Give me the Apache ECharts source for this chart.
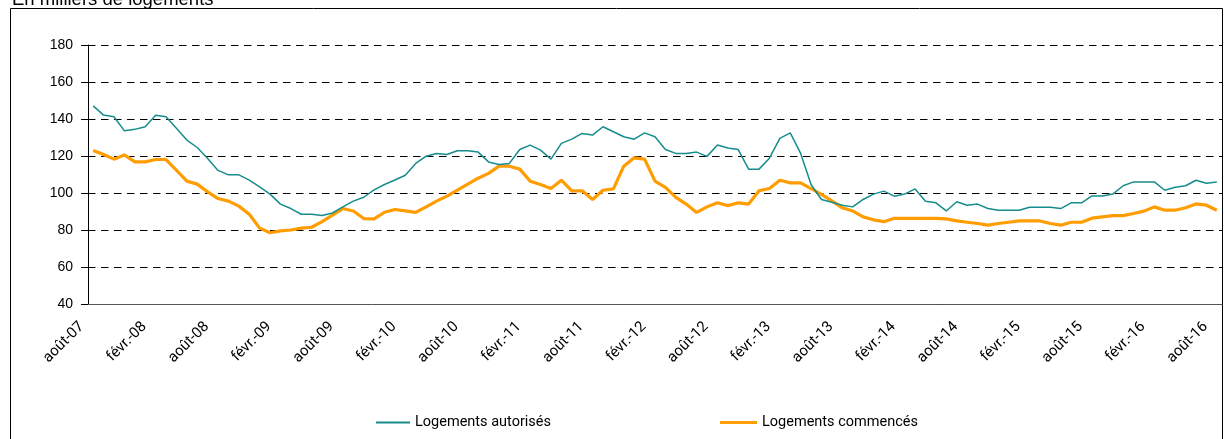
<!DOCTYPE html>
<html>
<head>
<meta charset="utf-8">
<script src="https://cdn.jsdelivr.net/npm/echarts@6/dist/echarts.min.js"></script>
<style>
html,body{margin:0;padding:0;background:#fff;}
#c{width:1224px;height:439px;}
</style>
</head>
<body>
<div id="c"></div>
<script>
const monthNames = ['janv.','févr.','mars','avr.','mai','juin','juil.','août','sept.','oct.','nov.','déc.'];
const startYear = 2007, startMonth = 7, monthCount = 109;
const categories = [];
for (let i = 0; i < monthCount; i++) {
  const m = (startMonth + i) % 12;
  const y = startYear + Math.floor((startMonth + i) / 12);
  categories.push(monthNames[m] + '-' + String(y).slice(2));
}
const titleText = 'En milliers de logements';
const seriesNames = ['Logements autorisés', 'Logements commencés'];
const autorises = [147.1,142.1,141.2,133.6,134.4,135.8,142,141.2,135,128.6,
124.6,118.7,112.2,109.8,109.8,107,103.3,99.4,94,91.6,
88.5,88.5,87.8,89.2,92.5,95.6,97.7,101.7,104.6,107,
109.6,116,119.9,121.4,120.8,122.8,122.8,122.1,116.8,115.4,
116,123.5,125.9,123.2,118.3,126.8,129.1,132.2,131.3,135.8,
133.1,130.4,129.1,132.5,130.4,123.5,121.4,121.4,122.1,119.8,
125.9,124.3,123.5,112.9,112.9,118.8,129.5,132.5,121.4,104.6,
96.5,95,93.4,92.5,96.5,99.4,101,98.3,99.4,102.2,
95.6,94.7,90.3,95.3,93.4,94,91.6,90.7,90.7,90.7,
92.3,92.3,92.3,91.6,94.7,94.7,98.4,98.4,99.4,103.9,
106,106,106,101.5,103.1,103.9,106.9,105.3,106];
const commences = [123,120.8,118.3,120.6,116.8,116.8,118.1,118.1,112.3,106.4,
104.8,100.6,97,95.6,92.9,88.5,81,78.5,79.5,80,
81,81.5,84.5,88,91.6,90.3,86.2,86,89.6,91.1,
90.3,89.5,92.5,95.6,98.3,101.5,104.8,108,110.6,114.5,
114.5,112.9,106.4,104.6,102.4,106.9,101.2,101.2,96.5,101.5,
102.2,114.5,119,118.3,106.4,103,97.6,94,89.5,92.5,
94.7,93.2,94.7,94,101.2,102.4,106.9,105.5,105.5,102.4,
99.2,95.7,92,90.3,87.1,85.5,84.5,86.3,86.3,86.3,
86.3,86.3,86,84.9,84.2,83.5,82.6,83.5,84.2,84.9,
84.9,84.9,83.5,82.6,84.2,84.2,86.4,87.1,87.8,87.8,
88.9,90.2,92.5,90.7,90.7,92,94.1,93.4,90.7];
const yMin = 40, yMax = 180, yStep = 20;

const teal = '#178c8c', orange = '#ff9d00';
const narrow = 'Roboto, "DejaVu Sans", sans-serif';
const chart = echarts.init(document.getElementById('c'), null, {renderer:'canvas'});
chart.setOption({
  animation: false,
  backgroundColor: '#fff',
  graphic: [
    {type:'rect', shape:{x:10.5, y:8.5, width:1212, height:440}, style:{fill:'none', stroke:'#000', lineWidth:1}, z:-1},
    {type:'text', left:12, top:-10, style:{text:titleText, font:'18.5px "Liberation Sans", Arial, sans-serif', fill:'#000'}}
  ],
  grid: {left:88, right:2, top:45, bottom:135, containLabel:false},
  legend: [
    {data:[seriesNames[0]], left:376, top:415, padding:0, itemWidth:34, itemHeight:2, icon:'rect',
     textStyle:{fontFamily:narrow, fontSize:14.5, color:'#000'}},
    {data:[seriesNames[1]], left:720, top:415, padding:0, itemWidth:37, itemHeight:3, icon:'rect',
     textStyle:{fontFamily:narrow, fontSize:14.5, color:'#000'}}
  ],
  xAxis: {
    type:'category', data:categories, boundaryGap:true,
    axisLine:{lineStyle:{color:'#555', width:1}},
    axisTick:{interval:5, length:7, lineStyle:{color:'#555'}},
    axisLabel:{interval:5, rotate:45, margin:9, padding:[0,16,0,0],
      fontFamily:narrow, fontSize:15, color:'#000'},
    splitLine:{show:false}
  },
  yAxis: {
    type:'value', min:yMin, max:yMax, interval:yStep,
    axisLine:{show:true, lineStyle:{color:'#000', width:1}},
    axisTick:{show:true, length:7, lineStyle:{color:'#000'}},
    axisLabel:{margin:15, fontFamily:'"Liberation Sans", Arial, sans-serif', fontSize:14, color:'#000'},
    splitLine:{show:true, lineStyle:{color:'#000', width:1, type:[7.5,5.5]}}
  },
  series: [
    {name:seriesNames[0], type:'line', data:autorises, symbol:'none', lineStyle:{color:teal, width:1.5}, itemStyle:{color:teal}, z:3},
    {name:seriesNames[1], type:'line', data:commences, symbol:'none', lineStyle:{color:orange, width:3.2}, itemStyle:{color:orange}, z:2}
  ]
});
</script>
</body>
</html>
